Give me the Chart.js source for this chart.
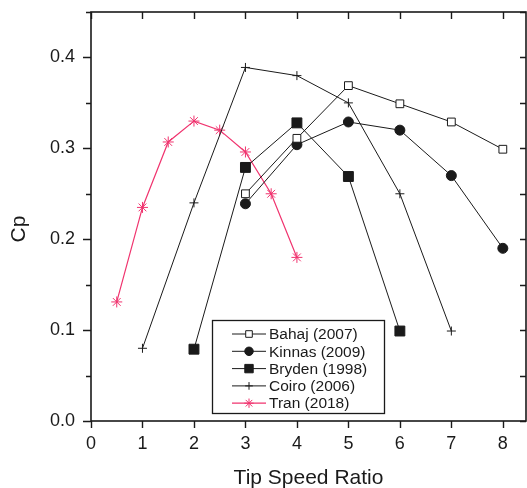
<!DOCTYPE html>
<html lang="en">
<head>
  <meta charset="UTF-8" />
  <title>Cp vs Tip Speed Ratio</title>
  <script src="https://cdn.jsdelivr.net/npm/chart.js"></script>
  <style>
    body {
      margin: 0;
      padding: 0;
      background: #fff;
    }
    #wrap {
      width: 527px;
      height: 488px;
    }
  </style>
</head>
<body>
  <div id="wrap"><canvas id="grafico"></canvas></div>

  <script>
    // datos
    const xTickLabels = ['0', '1', '2', '3', '4', '5', '6', '7', '8'];
    const yTickLabels = ['0.0', '0.1', '0.2', '0.3', '0.4'];

    const seriesNames = ['Bahaj (2007)', 'Kinnas (2009)', 'Bryden (1998)', 'Coiro (2006)', 'Tran (2018)'];

    const bahajX = [3, 4, 5, 6, 7, 8];
    const bahajCp = [0.25, 0.311, 0.369, 0.349, 0.329, 0.299];

    const kinnasX = [3, 4, 5, 6, 7, 8];
    const kinnasCp = [0.239, 0.304, 0.329, 0.32, 0.27, 0.19];

    const brydenX = [2, 3, 4, 5, 6];
    const brydenCp = [0.079, 0.279, 0.328, 0.269, 0.099];

    const coiroX = [1, 2, 3, 4, 5, 6, 7];
    const coiroCp = [0.08, 0.24, 0.389, 0.38, 0.35, 0.25, 0.099];

    const tranX = [0.5, 1, 1.5, 2, 2.5, 3, 3.5, 4];
    const tranCp = [0.131, 0.235, 0.307, 0.33, 0.32, 0.296, 0.25, 0.18];

    const FONT = "'Liberation Sans', Arial, sans-serif";
    const ink = '#1a1a1a';
    const pink = '#f0336e';

    function puntos(xs, ys) {
      return xs.map((x, i) => ({ x: x, y: ys[i] }));
    }

    function serie(label, xs, ys, estilo) {
      return Object.assign({
        label: label,
        data: puntos(xs, ys),
        showLine: true,
        borderColor: ink,
        borderWidth: 1,
        pointBorderColor: ink,
        pointBorderWidth: 1,
        tension: 0
      }, estilo);
    }

    const datasets = [
      serie(seriesNames[0], bahajX, bahajCp, { pointStyle: 'rect', pointRadius: 5.5, pointBackgroundColor: '#fff' }),
      serie(seriesNames[1], kinnasX, kinnasCp, { pointStyle: 'circle', pointRadius: 5, pointBackgroundColor: ink }),
      serie(seriesNames[2], brydenX, brydenCp, { pointStyle: 'rect', pointRadius: 7, pointBackgroundColor: ink }),
      serie(seriesNames[3], coiroX, coiroCp, { pointStyle: 'cross', pointRadius: 4.5, pointBackgroundColor: ink }),
      serie(seriesNames[4], tranX, tranCp, { pointStyle: 'star', pointRadius: 5.5, borderColor: pink, pointBorderColor: pink, pointBackgroundColor: pink, borderWidth: 1.2 })
    ];

    // marco, marcas de ejes, titulo Cp y leyenda dibujados a mano
    const marcoPlugin = {
      id: 'marco',
      afterDraw(chart) {
        const ctx = chart.ctx;
        const a = chart.chartArea;
        const xs = chart.scales.x;
        const ys = chart.scales.y;
        ctx.save();
        ctx.strokeStyle = ink;
        ctx.lineWidth = 1.6;
        ctx.strokeRect(a.left, a.top, a.right - a.left, a.bottom - a.top);

        ctx.lineWidth = 1.4;
        ctx.beginPath();
        for (let i = 0; i < xTickLabels.length; i++) {
          const px = Math.round(xs.getPixelForValue(i)) + 0.5;
          ctx.moveTo(px, a.bottom);
          ctx.lineTo(px, a.bottom + 7);
          ctx.moveTo(px, a.top);
          ctx.lineTo(px, a.top + 7);
        }
        for (let k = 0; k <= 9; k++) {
          const py = Math.round(ys.getPixelForValue(k * 0.05)) + 0.5;
          const largo = k % 2 === 0 ? 8 : 5;
          ctx.moveTo(a.left - largo, py);
          ctx.lineTo(a.left, py);
          ctx.moveTo(a.right, py);
          ctx.lineTo(a.right - 6, py);
        }
        ctx.stroke();

        // titulo del eje y
        ctx.fillStyle = ink;
        ctx.font = '21px ' + FONT;
        ctx.textAlign = 'center';
        ctx.textBaseline = 'middle';
        ctx.translate(19, 229);
        ctx.rotate(-Math.PI / 2);
        ctx.fillText('Cp', 0, 0);
        ctx.restore();

        // leyenda
        ctx.save();
        ctx.strokeStyle = ink;
        ctx.lineWidth = 1.3;
        ctx.strokeRect(212.5, 320.5, 172, 93);
        ctx.font = '15.5px ' + FONT;
        ctx.textBaseline = 'middle';
        ctx.textAlign = 'left';
        chart.data.datasets.forEach((ds, i) => {
          const y = 334 + i * 17.3;
          ctx.strokeStyle = ds.borderColor;
          ctx.lineWidth = ds.borderWidth;
          ctx.beginPath();
          ctx.moveTo(232, y);
          ctx.lineTo(266, y);
          ctx.stroke();
          ctx.fillStyle = ds.pointBackgroundColor;
          ctx.strokeStyle = ds.pointBorderColor;
          ctx.lineWidth = 1;
          Chart.helpers.drawPoint(ctx, {
            pointStyle: ds.pointStyle,
            radius: ds.pointRadius * 0.85,
            rotation: 0,
            borderWidth: 1
          }, 249, y);
          ctx.fillStyle = ink;
          ctx.fillText(ds.label, 269, y + 1);
        });
        ctx.restore();
      }
    };

    const ctx = document.getElementById('grafico').getContext('2d');
    new Chart(ctx, {
      type: 'scatter',
      data: { datasets: datasets },
      options: {
        responsive: true,
        maintainAspectRatio: false,
        animation: false,
        layout: { autoPadding: false, padding: { left: 0, right: 1, top: 12, bottom: 0 } },
        scales: {
          x: {
            type: 'linear',
            min: 0,
            max: 8.45,
            afterFit(scale) {
              scale.height = 67;
              scale.paddingLeft = 0;
              scale.paddingRight = 0;
            },
            grid: { display: false, drawTicks: false },
            border: { display: false },
            ticks: {
              stepSize: 1,
              includeBounds: false,
              padding: 12,
              color: ink,
              font: { family: FONT, size: 18 },
              maxRotation: 0,
              callback: (v, i) => xTickLabels[i] ?? ''
            },
            title: {
              display: true,
              text: 'Tip Speed Ratio',
              color: ink,
              font: { family: FONT, size: 21 },
              padding: { top: 0, bottom: -3 }
            }
          },
          y: {
            type: 'linear',
            min: 0,
            max: 0.45,
            afterFit(scale) {
              scale.width = 91;
              scale.paddingTop = 0;
              scale.paddingBottom = 0;
            },
            grid: { display: false, drawTicks: false },
            border: { display: false },
            ticks: {
              stepSize: 0.1,
              includeBounds: false,
              padding: 16,
              color: ink,
              font: { family: FONT, size: 18 },
              callback: (v, i) => yTickLabels[i] ?? ''
            }
          }
        },
        plugins: {
          legend: { display: false },
          tooltip: { enabled: false }
        }
      },
      plugins: [marcoPlugin]
    });
  </script>
</body>
</html>
